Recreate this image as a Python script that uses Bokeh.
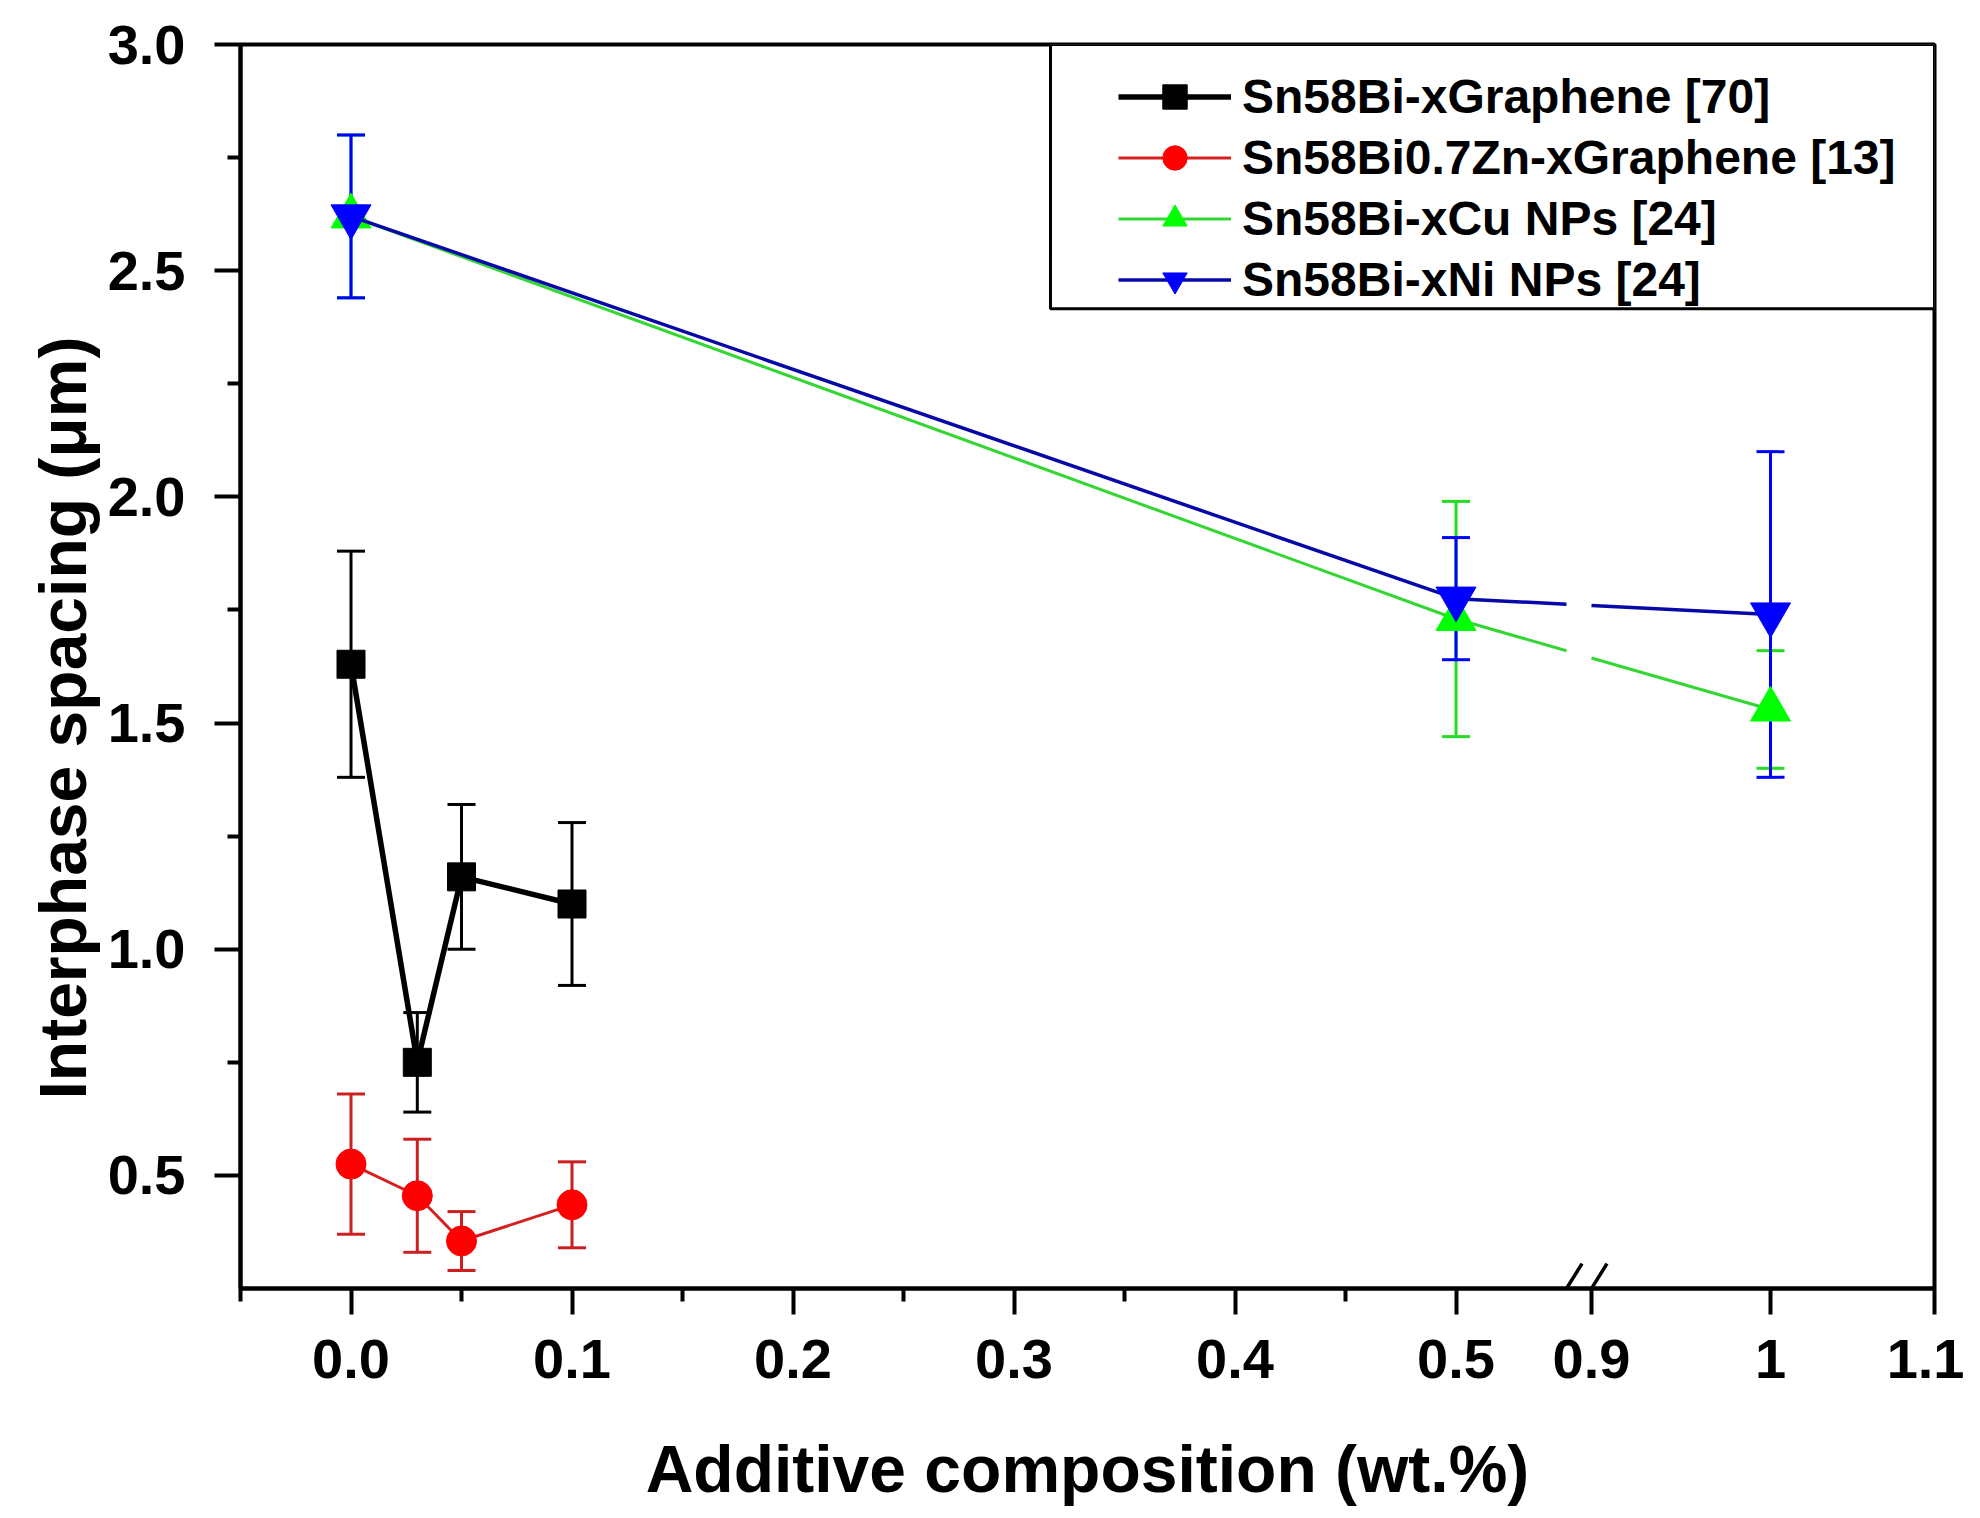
import numpy as np
from bokeh.plotting import figure
from bokeh.models import (ColumnDataSource, Whisker, TeeHead, FixedTicker, Legend,
                          LegendItem, Title, BoxAnnotation, Arrow, Range1d,
                          NumeralTickFormatter)
from bokeh.embed import file_html
from bokeh.resources import INLINE

# ---------------- data ----------------
x_graphene = [0.0, 0.03, 0.05, 0.1]
y_bi_graphene = [1.63, 0.75, 1.16, 1.10]
e_bi_graphene = [0.25, 0.11, 0.16, 0.18]
y_zn_graphene = [0.525, 0.455, 0.355, 0.435]
e_zn_graphene = [0.155, 0.125, 0.065, 0.095]

x_nps = [0.0, 0.5, 1.0]
y_cu = [2.62, 1.73, 1.53]
e_cu = [0.18, 0.26, 0.13]
y_ni = [2.62, 1.775, 1.74]
e_ni = [0.18, 0.135, 0.36]

names = ["Sn58Bi-xGraphene [70]", "Sn58Bi0.7Zn-xGraphene [13]",
         "Sn58Bi-xCu NPs [24]", "Sn58Bi-xNi NPs [24]"]

x_major_left = [0.0, 0.1, 0.2, 0.3, 0.4, 0.5]
x_minor_left = [-0.05, 0.05, 0.15, 0.25, 0.35, 0.45]
x_major_right = [0.9, 1.0, 1.1]
x_labels = ["0.0", "0.1", "0.2", "0.3", "0.4", "0.5", "0.9", "1", "1.1"]
y_major = [0.5, 1.0, 1.5, 2.0, 2.5, 3.0]
y_minor = [0.75, 1.25, 1.75, 2.25, 2.75]

# ---------------- broken x axis mapping ----------------
BREAK_FROM = 0.55
seg_x = [0.9, 1.0, 1.1]
seg_u = [0.5613, 0.6423, 0.7165]


def U(x):
    x = np.asarray(x, dtype=float)
    return np.where(x <= BREAK_FROM, x, np.interp(x, seg_x, seg_u))


def broken(xs, ys):
    """polyline in axis space with a gap across the axis break"""
    ux, uy = [], []
    u = U(xs)
    for i in range(len(xs)):
        if i > 0 and xs[i - 1] <= BREAK_FROM and xs[i] >= seg_x[0]:
            u0, u1, y0, y1 = u[i - 1], u[i], ys[i - 1], ys[i]
            uL, uR = BREAK_FROM, float(U(seg_x[0]))
            yL = y0 + (y1 - y0) * (uL - u0) / (u1 - u0)
            yR = y0 + (y1 - y0) * (uR - u0) / (u1 - u0)
            ux += [uL, np.nan, uR]
            uy += [yL, np.nan, yR]
        ux.append(float(u[i]))
        uy.append(ys[i])
    return ux, uy


FONT = "Liberation Sans"

p = figure(width=1964, height=1510,
           x_range=Range1d(-0.05, float(U(1.1))), y_range=Range1d(0.25, 3.0),
           output_backend="svg", toolbar_location=None,
           min_border_left=240, min_border_right=30,
           min_border_top=44, min_border_bottom=222)
p.xgrid.visible = False
p.ygrid.visible = False
p.outline_line_color = "black"
p.outline_line_width = 4
p.background_fill_color = "white"
p.border_fill_color = "white"

series = [
    (x_graphene, y_bi_graphene, e_bi_graphene, "square", 28, "#000000", "#000000", "#000000", 5.5),
    (x_graphene, y_zn_graphene, e_zn_graphene, "circle", 30, "#FF0000", "#D42020", "#CC2020", 3),
    (x_nps, y_cu, e_cu, "triangle", 40, "#00FF00", "#33D633", "#22DD22", 3),
    (x_nps, y_ni, e_ni, "inverted_triangle", 40, "#0000FF", "#0808A8", "#0000FF", 3.5),
]

items = []
whiskers = []
for (xs, ys, es, mk, sz, mcol, lcol, ecol, lw), name in zip(series, names):
    lx, ly = broken(xs, ys)
    lr = p.line(lx, ly, line_color=lcol, line_width=lw)
    src = ColumnDataSource(dict(
        u=U(xs), y=ys,
        upper=[a + b for a, b in zip(ys, es)],
        lower=[a - b for a, b in zip(ys, es)]))
    sr = p.scatter("u", "y", source=src, marker=mk, size=sz,
                   fill_color=mcol, line_color=mcol)
    w = Whisker(source=src, base="u", upper="upper", lower="lower",
                dimension="height", line_color=ecol, line_width=3,
                upper_head=TeeHead(size=28, line_color=ecol, line_width=3),
                lower_head=TeeHead(size=28, line_color=ecol, line_width=3))
    whiskers.append(w)
    items.append(LegendItem(label=name, renderers=[lr, sr]))

for w in whiskers:
    p.add_layout(w)

# axes
major_u = [round(float(v), 6) for v in list(U(x_major_left)) + list(U(x_major_right))]
p.xaxis.ticker = FixedTicker(ticks=major_u, minor_ticks=x_minor_left)
p.xaxis.major_label_overrides = {u: t for u, t in zip(major_u, x_labels)}
p.yaxis.ticker = FixedTicker(ticks=y_major, minor_ticks=y_minor)
p.yaxis.formatter = NumeralTickFormatter(format="0.0")

for ax in (p.xaxis, p.yaxis):
    ax.axis_line_width = 4
    ax.major_tick_line_width = 4
    ax.minor_tick_line_width = 4
    ax.major_tick_out = 26
    ax.major_tick_in = 0
    ax.minor_tick_out = 13
    ax.minor_tick_in = 0
    ax.major_label_text_font = FONT
    ax.major_label_text_font_style = "bold"
    ax.major_label_text_font_size = "56px"
    ax.major_label_text_color = "black"
p.xaxis.major_label_standoff = 25
p.yaxis.major_label_standoff = 29

p.xaxis.axis_label = "Additive composition (wt.%)"
p.xaxis.axis_label_text_font = FONT
p.xaxis.axis_label_text_font_style = "bold"
p.xaxis.axis_label_text_font_size = "66px"
p.xaxis.axis_label_text_color = "black"
p.xaxis.axis_label_standoff = 51

ytitle = Title(text="Interphase spacing (\u03bcm)", align="left", offset=189,
               text_font=FONT, text_font_style="bold", text_font_size="66px",
               text_color="black")
p.add_layout(ytitle, "left")

# axis break marks
for uc in (BREAK_FROM, float(U(seg_x[0]))):
    p.add_layout(Arrow(end=None, x_start=uc - 0.007, y_start=0.25 - 0.055,
                       x_end=uc + 0.007, y_end=0.25 + 0.055,
                       line_color="black", line_width=3.5))

# legend frame + legend
box = BoxAnnotation(left=0.3165, right=float(U(1.1)), top=3.0, bottom=2.416,
                    fill_color="white", fill_alpha=1.0,
                    line_color="black", line_width=3, line_alpha=1.0)
p.add_layout(box)

legend = Legend(items=items, location=(878, 978), padding=0, margin=0, spacing=0,
                glyph_width=113, glyph_height=61, label_height=61, label_standoff=11,
                label_text_font=FONT, label_text_font_style="bold",
                label_text_font_size="48px", label_text_color="black",
                border_line_alpha=0, background_fill_alpha=0)
p.add_layout(legend)

open("out.html", "w").write(file_html(p, INLINE))
